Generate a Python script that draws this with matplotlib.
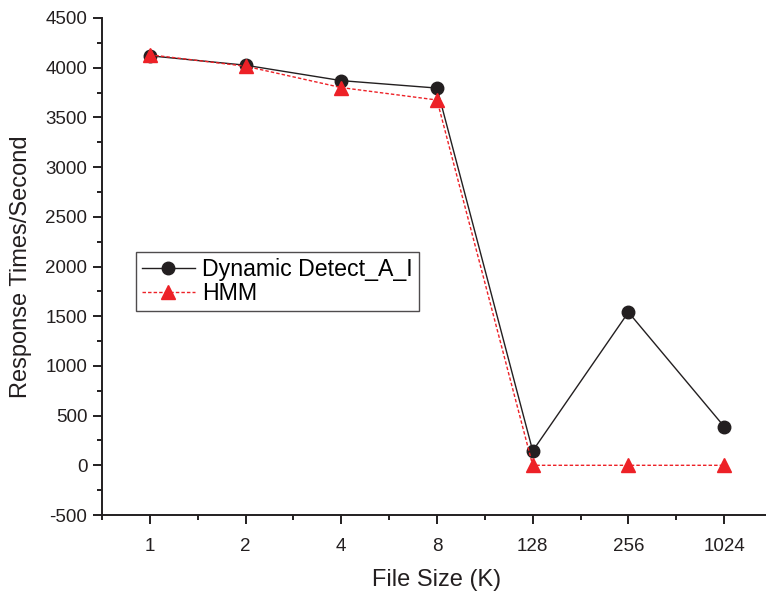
import matplotlib
matplotlib.use("Agg")
import matplotlib.pyplot as plt
from matplotlib.ticker import MultipleLocator, FixedLocator

plt.rcParams['font.family'] = ['Liberation Sans', 'DejaVu Sans']
plt.rcParams['axes.unicode_minus'] = False

categories = ['1', '2', '4', '8', '128', '256', '1024']
dynamic = [4120, 4025, 3870, 3795, 145, 1540, 390]
hmm = [4130, 4015, 3800, 3675, 0, 0, 0]

black = '#231F20'
red = '#ED2127'

fig = plt.figure(figsize=(7.66, 5.93), dpi=100)
ax = fig.add_axes([102/766, 78/593, (772-102)/766, (515-18)/593])

x = list(range(1, len(categories) + 1))
ax.plot(x, dynamic, color=black, lw=1.0, marker='o', ms=9, mfc=black, mec=black,
        label='Dynamic Detect_A_I', zorder=3)
ax.plot(x, hmm, color=red, lw=1.0, ls=(0, (2.5, 1.5)), marker='^', ms=10, mfc=red, mec=red,
        label='HMM', zorder=4)

ax.set_xlim(0.5, 7.5)
ax.set_ylim(-500, 4500)
ax.set_xticks(x)
ax.set_xticklabels(categories)
ax.xaxis.set_minor_locator(FixedLocator([0.5 + i for i in range(8)]))
ax.yaxis.set_major_locator(MultipleLocator(500))
ax.yaxis.set_minor_locator(MultipleLocator(250))

for s in ['top', 'right']:
    ax.spines[s].set_visible(False)
for s in ['left', 'bottom']:
    ax.spines[s].set_linewidth(1.4)
    ax.spines[s].set_color(black)

ax.tick_params(which='major', direction='out', length=6.5, width=1.4, color=black,
               labelsize=13.5, labelcolor=black, pad=4)
ax.tick_params(which='minor', direction='out', length=3.5, width=1.4, color=black)
ax.tick_params(axis='x', which='major', pad=10)

ax.set_xlabel('File Size (K)', fontsize=17, color=black, labelpad=10)
ax.set_ylabel('Response Times/Second', fontsize=17, color=black, labelpad=10)

leg = ax.legend(loc='upper left', bbox_to_anchor=((136-102)/670, (515-252)/497),
                fontsize=16.7, frameon=True, fancybox=False, handlelength=2.3,
                handletextpad=0.3, borderpad=0.25, labelspacing=0.05, borderaxespad=0)
leg.get_frame().set_edgecolor(black)
leg.get_frame().set_linewidth(1.0)

fig.savefig('out.png', dpi=100)
